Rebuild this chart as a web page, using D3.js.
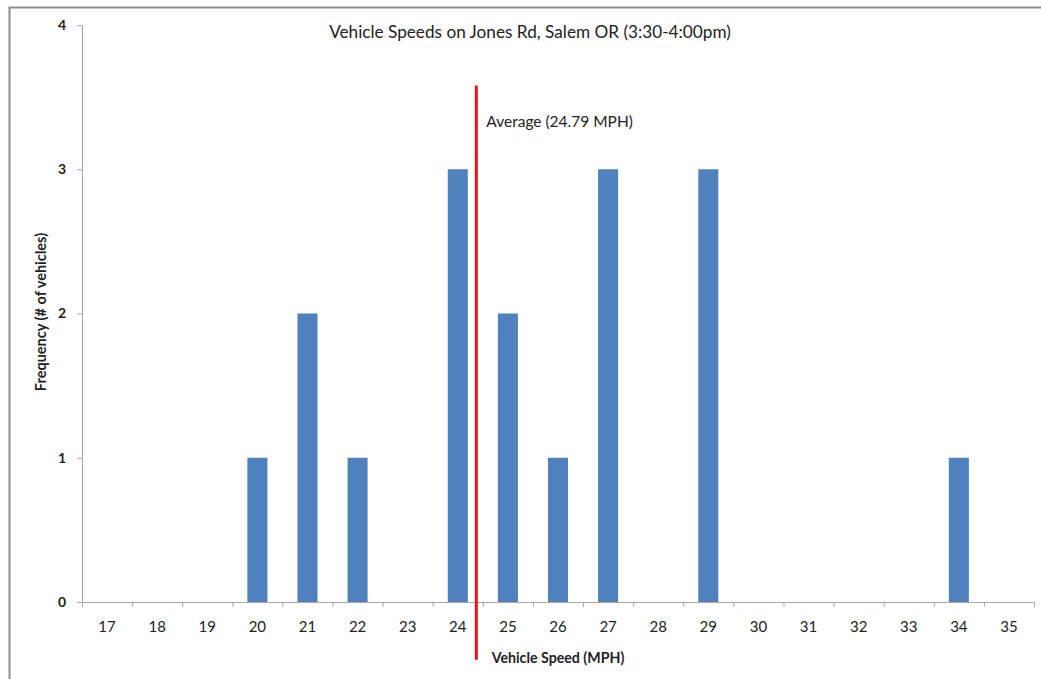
<!DOCTYPE html>
<html>
<head>
<meta charset="utf-8">
<script src="https://cdn.jsdelivr.net/npm/d3@7"></script>
<style>
  body { margin: 0; background: #fff; }
  svg { display: block; font-family: Lato, "Open Sans", sans-serif; }
  .axis path, .axis line { stroke: #a6a6a6; }
  .axis text { fill: #222; }
</style>
</head>
<body>
<svg width="1041" height="679"></svg>
<script>
// Data
const speeds = ["17","18","19","20","21","22","23","24","25","26","27","28","29","30","31","32","33","34","35"];
const counts = [0, 0, 0, 1, 2, 1, 0, 3, 2, 1, 3, 0, 3, 0, 0, 0, 0, 1, 0];
const yTicks = [0, 1, 2, 3, 4];
const averageLabel = "Average (24.79 MPH)";
const averageDrawnAt = 24.37;   // where the red line actually sits on the axis
const averageLineSpan = [-0.4, 3.58];

const svg = d3.select("svg");

// plot area
const plotLeft = 82, plotRight = 1034, plotTop = 25, plotBottom = 602;

// outer frame (only top and left edges are visible in the picture)
svg.append("rect")
  .attr("x", 9.5).attr("y", 7.5)
  .attr("width", 1100).attr("height", 800)
  .attr("fill", "none")
  .attr("stroke", "#8c8c8c")
  .attr("stroke-width", 2);

// scales
const xScale = d3.scaleBand()
  .domain(speeds)
  .range([plotLeft, plotRight])
  .paddingInner(0.6)
  .paddingOuter(0.3);

const xSlots = d3.scaleLinear()
  .domain([0, speeds.length])
  .range([plotLeft, plotRight]);

const xSpeed = d3.scaleLinear()
  .domain([+speeds[0] - 0.5, +speeds[speeds.length - 1] + 0.5])
  .range([plotLeft, plotRight]);

const yScale = d3.scaleLinear()
  .domain([0, 4])
  .range([plotBottom, plotTop]);

// bars
svg.selectAll("rect.bar")
  .data(speeds)
  .enter()
  .append("rect")
  .attr("class", "bar")
  .attr("x", d => xScale(d))
  .attr("width", xScale.bandwidth())
  .attr("y", (d, i) => yScale(counts[i]))
  .attr("height", (d, i) => yScale(0) - yScale(counts[i]))
  .attr("fill", "#4f81bd");

// y axis
svg.append("g")
  .attr("class", "axis")
  .attr("transform", `translate(${plotLeft},0)`)
  .call(d3.axisLeft(yScale).tickValues(yTicks).tickSize(5).tickSizeOuter(0).tickPadding(11).tickFormat(d3.format("d")))
  .call(g => g.selectAll("text").attr("font-size", 14).attr("font-weight", "bold").attr("font-family", "Lato, sans-serif"));

// x axis: tick marks between categories
svg.append("g")
  .attr("class", "axis")
  .attr("transform", `translate(0,${plotBottom})`)
  .call(d3.axisBottom(xSlots).tickValues(d3.range(speeds.length + 1)).tickSize(5).tickSizeOuter(0).tickFormat(""));

// x axis: labels centered on categories
svg.append("g")
  .attr("class", "axis")
  .attr("transform", `translate(0,${plotBottom})`)
  .call(d3.axisBottom(xScale).tickSize(0).tickPadding(19))
  .call(g => g.select(".domain").remove())
  .call(g => g.selectAll("text").attr("font-size", 15).attr("font-family", "Lato, sans-serif"));

// average line
const avgX = xSpeed(averageDrawnAt);
svg.append("line")
  .attr("x1", avgX).attr("x2", avgX)
  .attr("y1", yScale(averageLineSpan[1]))
  .attr("y2", yScale(averageLineSpan[0]))
  .attr("stroke", "#e8131c")
  .attr("stroke-width", 3);

svg.append("text")
  .attr("x", avgX + 10)
  .attr("y", yScale(3.29))
  .attr("font-size", 15.5)
  .attr("fill", "#222")
  .text(averageLabel);

// title
svg.append("text")
  .attr("x", 530)
  .attr("y", 38)
  .attr("text-anchor", "middle")
  .attr("font-size", 17.2)
  .attr("fill", "#222")
  .text("Vehicle Speeds on Jones Rd, Salem OR (3:30-4:00pm)");

// axis titles
svg.append("text")
  .attr("x", (plotLeft + plotRight) / 2)
  .attr("y", 663)
  .attr("text-anchor", "middle")
  .attr("font-size", 14.2)
  .attr("font-weight", "bold")
  .attr("fill", "#222")
  .text("Vehicle Speed (MPH)");

svg.append("text")
  .attr("transform", "rotate(-90)")
  .attr("x", -312)
  .attr("y", 46)
  .attr("text-anchor", "middle")
  .attr("font-size", 14.5)
  .attr("font-weight", "bold")
  .attr("fill", "#222")
  .text("Frequency (# of vehicles)");
</script>
</body>
</html>
